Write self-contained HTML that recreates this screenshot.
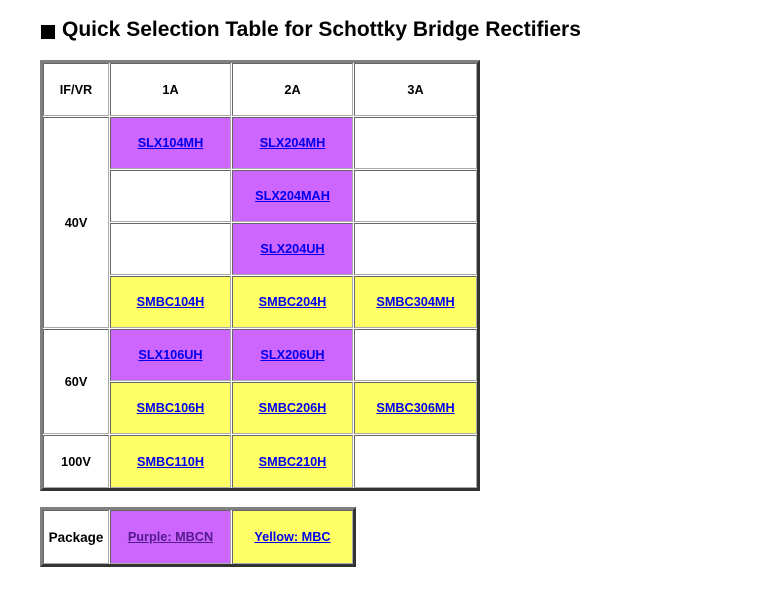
<!DOCTYPE html>
<html><head><meta charset="utf-8"><style>
body{margin:0;width:758px;height:589px;background:#fff;font-family:"Liberation Sans",Arial,sans-serif;position:relative;overflow:hidden}
.t{position:absolute;box-sizing:border-box;border-style:solid;border-width:3px;border-color:#808080 #333 #333 #808080}
.c{position:absolute;box-sizing:border-box;border:1px solid;border-color:#666 #aaa #aaa #666;display:flex;align-items:center;justify-content:center;font-size:12.7px;font-weight:bold;color:#000;background:#fff}
.p{background:#cc66ff}.y{background:#ffff66}
.c a{color:#0000ee;text-decoration:underline}
.p a.v{color:#551a8b}
h1{position:absolute;left:62px;top:18px;margin:0;font-size:21px;font-weight:bold;color:#000;white-space:nowrap}
.sq{position:absolute;left:41px;top:25px;width:14px;height:14px;background:#000}
</style></head><body>
<div class="sq"></div>
<h1>Quick Selection Table for Schottky Bridge Rectifiers</h1>
<div class="t" style="left:40px;top:60px;width:440px;height:431px"></div>
<div class="c" style="left:43px;top:63px;width:66px;height:53px">IF/VR</div>
<div class="c" style="left:110px;top:63px;width:121px;height:53px">1A</div>
<div class="c" style="left:232px;top:63px;width:121px;height:53px">2A</div>
<div class="c" style="left:354px;top:63px;width:123px;height:53px">3A</div>

<div class="c" style="left:43px;top:117px;width:66px;height:211px">40V</div>
<div class="c p" style="left:110px;top:117px;width:121px;height:52px"><a>SLX104MH</a></div>
<div class="c p" style="left:232px;top:117px;width:121px;height:52px"><a>SLX204MH</a></div>
<div class="c" style="left:354px;top:117px;width:123px;height:52px"></div>
<div class="c" style="left:110px;top:170px;width:121px;height:52px"></div>
<div class="c p" style="left:232px;top:170px;width:121px;height:52px"><a>SLX204MAH</a></div>
<div class="c" style="left:354px;top:170px;width:123px;height:52px"></div>
<div class="c" style="left:110px;top:223px;width:121px;height:52px"></div>
<div class="c p" style="left:232px;top:223px;width:121px;height:52px"><a>SLX204UH</a></div>
<div class="c" style="left:354px;top:223px;width:123px;height:52px"></div>
<div class="c y" style="left:110px;top:276px;width:121px;height:52px"><a>SMBC104H</a></div>
<div class="c y" style="left:232px;top:276px;width:121px;height:52px"><a>SMBC204H</a></div>
<div class="c y" style="left:354px;top:276px;width:123px;height:52px"><a>SMBC304MH</a></div>

<div class="c" style="left:43px;top:329px;width:66px;height:105px">60V</div>
<div class="c p" style="left:110px;top:329px;width:121px;height:52px"><a>SLX106UH</a></div>
<div class="c p" style="left:232px;top:329px;width:121px;height:52px"><a>SLX206UH</a></div>
<div class="c" style="left:354px;top:329px;width:123px;height:52px"></div>
<div class="c y" style="left:110px;top:382px;width:121px;height:52px"><a>SMBC106H</a></div>
<div class="c y" style="left:232px;top:382px;width:121px;height:52px"><a>SMBC206H</a></div>
<div class="c y" style="left:354px;top:382px;width:123px;height:52px"><a>SMBC306MH</a></div>

<div class="c" style="left:43px;top:435px;width:66px;height:53px">100V</div>
<div class="c y" style="left:110px;top:435px;width:121px;height:53px"><a>SMBC110H</a></div>
<div class="c y" style="left:232px;top:435px;width:121px;height:53px"><a>SMBC210H</a></div>
<div class="c" style="left:354px;top:435px;width:123px;height:53px"></div>

<div class="t" style="left:40px;top:507px;width:316px;height:60px"></div>
<div class="c" style="left:43px;top:510px;width:66px;height:54px;font-size:13.5px">Package</div>
<div class="c p" style="left:110px;top:510px;width:121px;height:54px"><a class="v">Purple: MBCN</a></div>
<div class="c y" style="left:232px;top:510px;width:121px;height:54px"><a>Yellow: MBC</a></div>
</body></html>
